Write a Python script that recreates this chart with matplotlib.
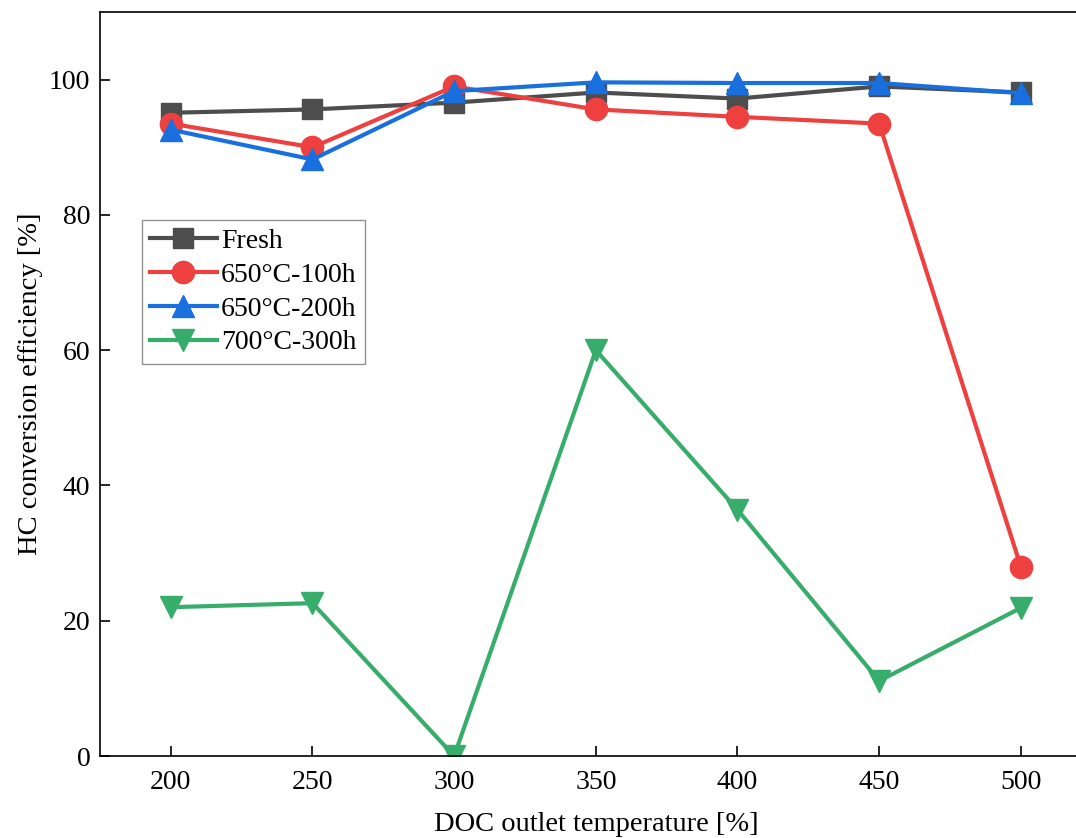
import matplotlib.pyplot as plt

plt.rcParams['font.family'] = ['Liberation Serif', 'DejaVu Serif']

temps = [200, 250, 300, 350, 400, 450, 500]
fresh = [95.1, 95.6, 96.6, 98.1, 97.2, 99.0, 98.1]
aged_650_100 = [93.5, 90.0, 99.0, 95.6, 94.5, 93.5, 28.0]
aged_650_200 = [92.6, 88.2, 98.3, 99.6, 99.5, 99.5, 98.0]
aged_700_300 = [22.0, 22.6, 0.0, 60.0, 36.4, 11.1, 21.9]

W, H = 1076, 838
fig = plt.figure(figsize=(W / 100, H / 100), dpi=100)
# axes: left 100px, bottom 756px, top 12px; right side runs off the picture
ax = fig.add_axes([100 / W, (H - 756) / H, (525 - 175) * 2.8333 / W, (756 - 12) / H])

ax.plot(temps, fresh, color="#4d4d4d", lw=3, marker="s", ms=14, label="Fresh")
ax.plot(temps, aged_650_100, color="#ef4040", lw=3, marker="o", ms=16, label="650°C-100h")
ax.plot(temps, aged_650_200, color="#1a6fdf", lw=3, marker="^", ms=16, label="650°C-200h")
ax.plot(temps, aged_700_300, color="#37ad6b", lw=3, marker="v", ms=16, label="700°C-300h")

ax.set_xlim(175, 525)
ax.set_ylim(0, 110)
ax.set_xticks(temps)
ax.set_yticks([0, 20, 40, 60, 80, 100])
ax.tick_params(direction="in", length=7, width=1.2, labelsize=20, pad=7)
ax.tick_params(axis="x", pad=10)
for s in ax.spines.values():
    s.set_linewidth(1.2)

ax.set_xlabel("DOC outlet temperature [%]", fontsize=20.5, labelpad=12)
ax.set_ylabel("HC conversion efficiency [%]", fontsize=20.5, labelpad=4)

leg = ax.legend(loc="upper left", bbox_to_anchor=(0.042, 0.72), fontsize=20,
                frameon=True, fancybox=False, edgecolor="#777777",
                handlelength=2.4, handletextpad=0.15, borderpad=0.3,
                labelspacing=0.3, borderaxespad=0)
leg.get_frame().set_linewidth(1.0)

fig.savefig("out.png", dpi=100)
